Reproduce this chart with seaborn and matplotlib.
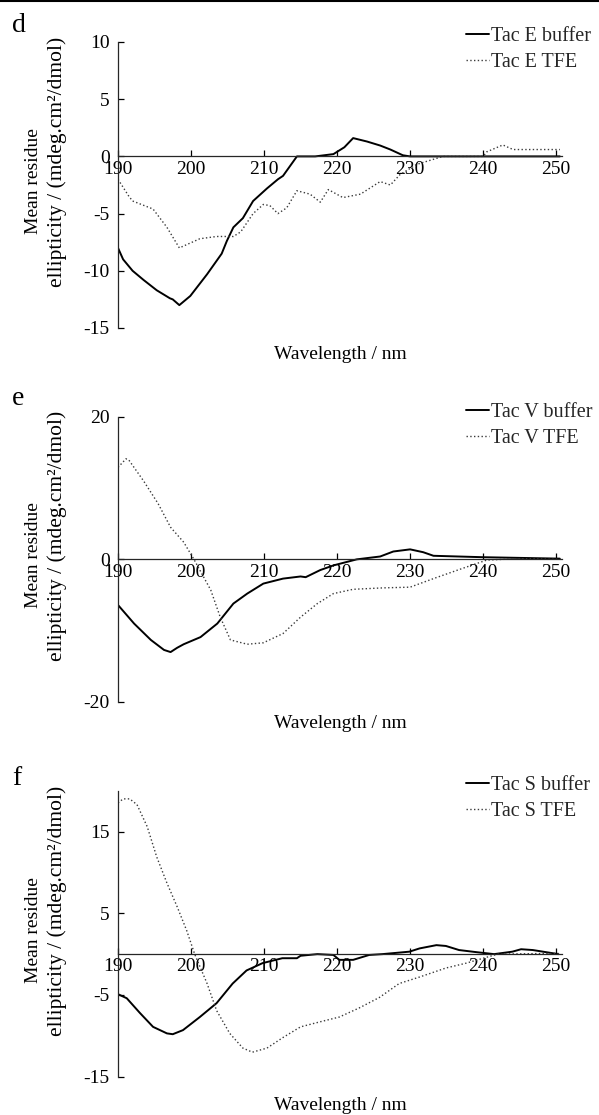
import numpy as np
import pandas as pd
import matplotlib
matplotlib.use("Agg")
import matplotlib.pyplot as plt
from matplotlib.lines import Line2D
import seaborn as sns

# ---------------- data ----------------
d_buf_wl = [190, 190.7, 192, 193.5, 195.3, 197.1, 197.5, 198.4, 199.9, 202.2, 204.2, 204.9, 205.8,
            207.1, 208.5, 210.4, 211.9, 212.6, 214.5, 217, 219.5, 221, 222.2, 224.1, 225.9, 227.3,
            229.0, 230, 240, 250.5]
d_buf_val = [-8.0, -9.0, -10.0, -10.8, -11.7, -12.4, -12.5, -13.0, -12.2, -10.3, -8.5, -7.4, -6.2,
             -5.4, -3.9, -2.8, -2.0, -1.7, 0, 0, 0.2, 0.8, 1.6, 1.3, 0.95, 0.6,
             0.1, 0, 0, 0]
d_tfe_wl = [190, 191.5, 192, 194.8, 196.7, 198.4, 201.2, 203.5, 205.8, 206.8, 208.5, 209.9, 210.8,
            211.9, 213.1, 214.5, 216.3, 217.7, 218.8, 220.8, 223.2, 225.9, 227.3, 228.6, 230.9,
            234.5, 240, 240.5, 242.7, 244.1, 250.5]
d_tfe_val = [-2.0, -3.5, -3.9, -4.6, -6.2, -8.0, -7.2, -7.0, -7.0, -6.6, -5.0, -4.2, -4.3,
             -5.0, -4.5, -3.0, -3.3, -4.0, -2.9, -3.6, -3.3, -2.2, -2.5, -1.6, -0.7,
             0, 0, 0.4, 1.0, 0.6, 0.6]

e_buf_wl = [190, 192.2, 194.5, 196.3, 197.2, 198.1, 199, 201.3, 203.6, 205.8, 207.7, 209.9, 212.6,
            215, 215.7, 217.7, 219.5, 222.7, 225.9, 227.7, 230, 231.8, 233.2, 240, 250.5]
e_buf_val = [-6.4, -9.0, -11.3, -12.7, -13.0, -12.4, -11.9, -10.9, -9.0, -6.2, -4.8, -3.4, -2.7,
             -2.4, -2.5, -1.5, -0.85, 0, 0.4, 1.1, 1.4, 1.0, 0.5, 0.3, 0.1]
e_tfe_wl = [190, 191.1, 191.5, 193.5, 195.5, 197.2, 199, 200.4, 202.7, 204, 205.4, 207.7, 209.9,
            212.6, 215, 217.3, 219.5, 222.2, 226.3, 230, 233.2, 236.8, 240.5, 245, 250.5]
e_tfe_val = [12.9, 14.1, 13.9, 11.0, 7.8, 4.5, 2.4, 0, -4.3, -8.1, -11.3, -11.9, -11.7,
             -10.4, -8.1, -6.2, -4.8, -4.2, -4.0, -3.9, -2.7, -1.4, -0.1, 0.1, 0.0]

f_buf_wl = [190, 191.2, 193, 194.8, 196.7, 197.5, 198.9, 201.2, 203.5, 205.7, 207.6, 209.8, 212.5,
            214.5, 215, 217.3, 219.5, 220.3, 222.2, 224.4, 226.2, 229.9, 231.3, 233.6, 234.9,
            236.7, 239, 241.5, 244, 245.2, 246.8, 250.3]
f_buf_val = [-4.9, -5.4, -7.2, -8.9, -9.7, -9.8, -9.3, -7.7, -6.0, -3.6, -2.0, -1.1, -0.5,
             -0.5, -0.2, 0, -0.1, -0.7, -0.7, -0.1, 0, 0.3, 0.7, 1.1, 1.0,
             0.5, 0.25, 0, 0.3, 0.6, 0.5, 0]
f_tfe_wl = [190, 190.7, 191.6, 192.6, 194, 195.3, 196.7, 198.1, 199.4, 200.5, 202.2, 203.5, 205.3,
            207.1, 208.4, 210.4, 212.6, 215, 217.6, 220.3, 223, 225.8, 228.5, 231.3, 234.9,
            237.7, 240.4, 242, 250.3]
f_tfe_val = [18.5, 19.0, 19.0, 18.3, 15.6, 11.9, 8.7, 5.8, 2.9, 0, -3.6, -6.9, -9.7,
             -11.5, -12.0, -11.5, -10.2, -8.9, -8.3, -7.7, -6.6, -5.3, -3.6, -2.8, -1.7,
             -1.1, -0.4, 0, 0.1]

panel_letters = ["d", "e", "f"]
buffer_labels = ["Tac E buffer", "Tac V buffer", "Tac S buffer"]
tfe_labels = ["Tac E TFE", "Tac V TFE", "Tac S TFE"]
x_ticks = [190, 200, 210, 220, 230, 240, 250]
y_ticks_list = [[10, 5, 0, -5, -10, -15], [20, 0, -20], [15, 5, -5, -15]]
y_limits = [(-15, 10), (-20, 20), (-15, 20)]
x_label = "Wavelength / nm"
y_label_1 = "Mean residue"
y_label_2 = "ellipticity / (mdeg.cm\u00b2/dmol)"

buffers = [(d_buf_wl, d_buf_val), (e_buf_wl, e_buf_val), (f_buf_wl, f_buf_val)]
tfes = [(d_tfe_wl, d_tfe_val), (e_tfe_wl, e_tfe_val), (f_tfe_wl, f_tfe_val)]

# ---------------- style ----------------
sns.set_theme(style="ticks")
plt.rcParams["font.family"] = ["Liberation Serif", "DejaVu Serif"]
plt.rcParams["axes.linewidth"] = 0.9
plt.rcParams["axes.unicode_minus"] = False

W, H = 599, 1115
fig = plt.figure(figsize=(W / 100, H / 100), dpi=100)
fig.patch.set_facecolor("white")


def fx(px):
    return px / W


def fy(py):
    return 1 - py / H


# layout in pixels
layout = [
    dict(top=42, bottom=328, leg_top=27, letter_y=32, xlab=-0.062),
    dict(top=416.7, bottom=702, leg_top=403, letter_y=405, xlab=-0.046),
    dict(top=790.7, bottom=1076.7, leg_top=776, letter_y=785, xlab=-0.071),
]
left_px, right_px = 118, 562

for i in range(3):
    L = layout[i]
    ax = fig.add_axes([fx(left_px), fy(L["bottom"]), (right_px - left_px) / W,
                       (L["bottom"] - L["top"]) / H])
    ax.set_facecolor("none")
    bw, bv = buffers[i]
    tw, tv = tfes[i]
    df_b = pd.DataFrame({"wl": bw, "val": bv})
    df_t = pd.DataFrame({"wl": tw, "val": tv})
    sns.lineplot(data=df_b, x="wl", y="val", ax=ax, color="black", linewidth=1.4,
                 label=buffer_labels[i], estimator=None, sort=False)
    sns.lineplot(data=df_t, x="wl", y="val", ax=ax, color="#3a3a3a", linewidth=1.0,
                 linestyle=(0, (1, 1.7)), label=tfe_labels[i], estimator=None, sort=False)
    ax.set_xlim(190, 250.8)
    ax.set_ylim(*y_limits[i])
    ax.set_xticks(x_ticks)
    ax.set_yticks(y_ticks_list[i])
    ax.spines["top"].set_visible(False)
    ax.spines["right"].set_visible(False)
    ax.spines["bottom"].set_position(("data", 0))
    ax.tick_params(axis="both", direction="in", length=4, width=0.9, colors="black",
                   labelsize=14)
    ax.tick_params(axis="x", pad=3)
    ax.tick_params(axis="y", pad=6)
    ax.set_xlabel(x_label, fontsize=14, color="black")
    ax.xaxis.set_label_coords(0.5, L["xlab"])
    ax.set_ylabel("")
    ax.legend(loc="upper left", bbox_to_anchor=(fx(466), fy(L["leg_top"])),
              bbox_transform=fig.transFigure, frameon=False, borderpad=0, borderaxespad=0,
              handlelength=1.15, handletextpad=0.1, labelspacing=0.35, fontsize=14.5)
    # y label (two lines)
    ctr = (L["top"] + L["bottom"]) / 2
    fig.text(fx(33), fy(ctr - 4), y_label_1, rotation=90, ha="center", va="center",
             fontsize=14, color="black")
    fig.text(fx(57), fy(ctr - 23), y_label_2, rotation=90, ha="center", va="center",
             fontsize=15.5, color="black")
    fig.text(fx(12), fy(L["letter_y"]), panel_letters[i], ha="left", va="baseline",
             fontsize=20, color="black")

fig.add_artist(Line2D([0, 1], [fy(0.8), fy(0.8)], color="black", linewidth=1.5,
                      transform=fig.transFigure))

fig.savefig("out.png", dpi=100)
